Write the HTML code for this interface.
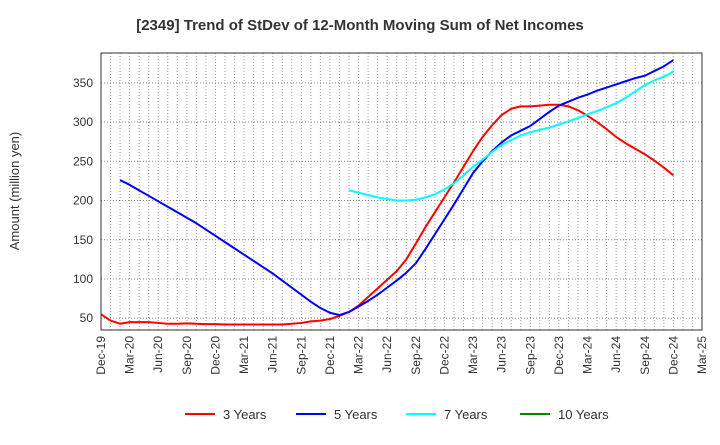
<!DOCTYPE html>
<html><head><meta charset="utf-8"><style>
body{margin:0;background:#fff;font-family:"Liberation Sans",sans-serif}
svg text{font-family:"Liberation Sans",sans-serif}
</style></head><body>
<svg id="c" width="720" height="440" xmlns="http://www.w3.org/2000/svg">
<text x="360" y="30" text-anchor="middle" font-size="15" font-weight="bold" fill="#333">[2349]  Trend of StDev of 12-Month Moving Sum of Net Incomes</text>
<text transform="translate(19,191) rotate(-90)" text-anchor="middle" font-size="13" fill="#333">Amount (million yen)</text>
<g id="grid"></g><g id="series"></g><g id="axes"></g>
<g>
<g><line x1="185" y1="414" x2="215" y2="414" stroke="#f00" stroke-width="2"/><text x="223" y="419" font-size="13" fill="#333">3 Years</text></g>
<g><line x1="296" y1="414" x2="326" y2="414" stroke="#00f" stroke-width="2"/><text x="334" y="419" font-size="13" fill="#333">5 Years</text></g>
<g><line x1="406" y1="414" x2="436" y2="414" stroke="#0ff" stroke-width="2"/><text x="444" y="419" font-size="13" fill="#333">7 Years</text></g>
<g><line x1="520" y1="414" x2="550" y2="414" stroke="#080" stroke-width="2"/><text x="558" y="419" font-size="13" fill="#333">10 Years</text></g>
</g>
</svg>
<script>
const xLabels=["Dec-19","Mar-20","Jun-20","Sep-20","Dec-20","Mar-21","Jun-21","Sep-21","Dec-21","Mar-22","Jun-22","Sep-22","Dec-22","Mar-23","Jun-23","Sep-23","Dec-23","Mar-24","Jun-24","Sep-24","Dec-24","Mar-25"];
const yTicks=[50,100,150,200,250,300,350];
const s3Start=0;
const s3=[55,47,43,45,45,45,44,43,43,43.5,43,42.5,42.5,42,42,42,42,42,42,42,43,44,46,47,49,53,58,66,77,88,99,110,125,145,166,185,204,223,243,263,281,296,309,317,320,320,321,322,322,320,315,308,300,291,281,273,266,259,251,242,232];
const s5Start=2;
const s5=[226,220,213,206,199,192,185,178,171,163,155,147,139,131,123,115,107,98,89,80,71,63,57,54,58,65,72,80,89,98,108,120,138,157,176,195,215,235,250,263,274,283,289,295,304,313,321,326,331,335,340,344,348,352,356,359,365,371,379];
const s7Start=26;
const s7=[213,210,207,204,202,200,200,201,204,208,214,222,232,243,252,262,271,277,283,287,290,293,297,301,305,310,314,319,324,331,339,347,353,358,364];
const L=101,R=702,T=53,B=330,NM=63,YMIN=35,YMAX=388;
const X=m=>L+(R-L)*m/NM, Y=v=>B-(B-T)*(v-YMIN)/(YMAX-YMIN);
const NS="http://www.w3.org/2000/svg";
function mk(t,a,p){const e=document.createElementNS(NS,t);for(const k in a)e.setAttribute(k,a[k]);p.appendChild(e);return e;}
const g=document.getElementById('grid'),ax=document.getElementById('axes'),se=document.getElementById('series');
for(let m=1;m<NM;m++){const l=mk('line',{x1:X(m),x2:X(m),y1:T,y2:B,stroke:'#999','stroke-width':1,'stroke-dasharray':'1,2'},g);

}
yTicks.forEach(v=>{const l=mk('line',{x1:L,x2:R,y1:Y(v),y2:Y(v),stroke:'#888','stroke-width':1,'stroke-dasharray':'1,2'},g);


const t=mk('text',{x:L-8,y:Y(v)+4,'text-anchor':'end','font-size':12,fill:'#333'},ax);t.textContent=v;

});
const fr=mk('rect',{x:L,y:T,width:R-L,height:B-T,fill:'none',stroke:'#333','stroke-width':1},ax);


xLabels.forEach((s,i)=>{const x=X(i*3);const t=mk('text',{transform:`translate(${x+4},${B+6}) rotate(-90)`,'text-anchor':'end','font-size':12,fill:'#333'},ax);t.textContent=s;

});
function line(d,st,col,name){const p=mk('polyline',{points:d.map((v,i)=>X(st+i)+','+Y(v)).join(' '),fill:'none',stroke:col,'stroke-width':2,'stroke-linejoin':'round'},se);

}
line(s3,s3Start,'#f00','series-3-years');
line(s5,s5Start,'#00f','series-5-years');
line(s7,s7Start,'#0ff','series-7-years');
</script>
</body></html>
